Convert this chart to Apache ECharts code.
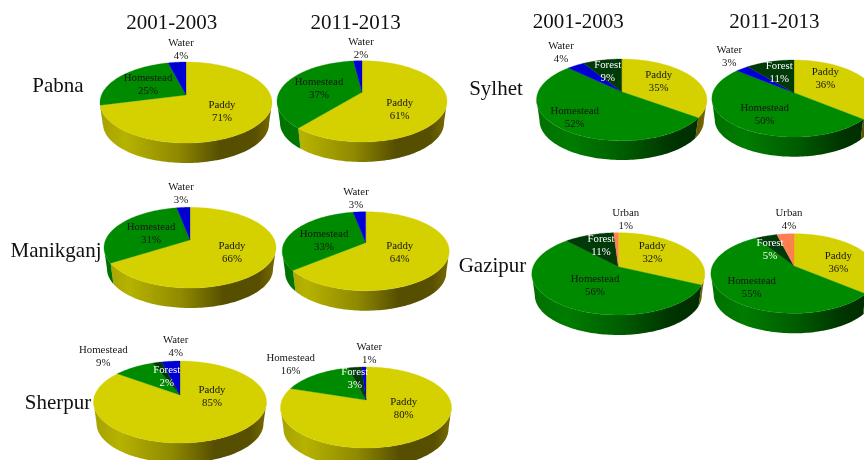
<!DOCTYPE html>
<html>
<head>
<meta charset="utf-8">
<style>
html,body{margin:0;padding:0;background:#fff}
#chart{width:864px;height:460px;filter:blur(0.45px)}
</style>
<script src="https://cdn.jsdelivr.net/npm/echarts@6/dist/echarts.min.js"></script>
</head>
<body>
<div id="chart"></div>
<script>
// ---- data ----
const pabna2001Names = ['Paddy','Homestead','Water'];
const pabna2001Values = [71,25,4];
const pabna2011Names = ['Paddy','Homestead','Water'];
const pabna2011Values = [61,37,2];
const manikganj2001Names = ['Paddy','Homestead','Water'];
const manikganj2001Values = [66,31,3];
const manikganj2011Names = ['Paddy','Homestead','Water'];
const manikganj2011Values = [64,33,3];
const sherpur2001Names = ['Paddy','Homestead','Forest','Water'];
const sherpur2001Values = [85,9,2,4];
const sherpur2011Names = ['Paddy','Homestead','Forest','Water'];
const sherpur2011Values = [80,16,3,1];
const sylhet2001Names = ['Paddy','Homestead','Water','Forest'];
const sylhet2001Values = [35,52,4,9];
const sylhet2011Names = ['Paddy','Homestead','Water','Forest'];
const sylhet2011Values = [36,50,3,11];
const gazipur2001Names = ['Paddy','Homestead','Forest','Urban'];
const gazipur2001Values = [32,56,11,1];
const gazipur2011Names = ['Paddy','Homestead','Forest','Urban'];
const gazipur2011Values = [36,55,5,4];
const periodLabels = ['2001-2003','2011-2013'];
const districtLabels = ['Pabna','Manikganj','Sherpur','Sylhet','Gazipur'];

// ---- layout & style ----
const FONT = '"Liberation Serif","Times New Roman",serif';
const topColors = {Paddy:'#d5d100',Homestead:'#008a00',Forest:'#003a08',Water:'#0000d2',Urban:'#ff7f50'};
const wallStops = {
  Paddy:[[0,'#a6a200'],[0.15,'#b6b200'],[0.45,'#8f8a00'],[0.7,'#564e00'],[0.9,'#585000'],[1,'#7a6c00']],
  Homestead:[[0,'#007000'],[0.2,'#007c00'],[0.5,'#005e00'],[0.8,'#003400'],[1,'#002c00']],
  Forest:[[0,'#003a08'],[1,'#001c04']],
  Water:[[0,'#0000b0'],[1,'#000050']],
  Urban:[[0,'#e07040'],[1,'#804020']]
};
// cx, apexY: slice apex; left/right: rim extremes; top/bottom: rim on the vertical; base: lowest point of the wall
const pies = [
 {names:pabna2001Names,values:pabna2001Values,cx:186,ay:95,left:100,right:272,top:62,bottom:143,base:163,
  labels:[[222,112],[148,85],[181,49.5]]},
 {names:pabna2011Names,values:pabna2011Values,cx:362,ay:92.3,left:277,right:447,top:60.7,bottom:142,base:162,
  labels:[[399.7,110],[319,89],[361,49]]},
 {names:manikganj2001Names,values:manikganj2001Values,cx:190,ay:240,left:104,right:276,top:207.3,bottom:288,base:308,
  labels:[[232,252.7],[151,233.5],[181,193.8]]},
 {names:manikganj2011Names,values:manikganj2011Values,cx:365.7,ay:242.7,left:282,right:449,top:211.7,bottom:290.7,base:310.7,
  labels:[[399.7,252.7],[324,240.7],[356,199]]},
 {names:sherpur2001Names,values:sherpur2001Values,cx:180,ay:395,left:94,right:267,top:361,bottom:443,base:463,
  labels:[[212,396.3],[103.3,357],[166.7,377],[175.7,347]]},
 {names:sherpur2011Names,values:sherpur2011Values,cx:366,ay:400,left:280,right:451,top:367,bottom:448,base:468,
  labels:[[403.7,408.3],[290.7,364.2],[354.7,379],[369.3,353.5]]},
 {names:sylhet2001Names,values:sylhet2001Values,cx:621.7,ay:91.7,left:536.7,right:707,top:59,bottom:140.7,base:160,
  labels:[[658.7,81.3],[574.7,117.2],[561,52.8],[607.7,71.2]]},
 {names:sylhet2011Names,values:sylhet2011Values,cx:794,ay:92.7,left:711.7,right:876,top:60,bottom:137,base:156.7,
  labels:[[825.3,78.7],[764.7,114.5],[729.3,56.4],[779.3,72.4]]},
 {names:gazipur2001Names,values:gazipur2001Values,cx:618.3,ay:266.7,left:532.7,right:705.7,top:232.7,bottom:315,base:335,
  labels:[[652.3,252.4],[595,285.2],[601,245.7],[625.7,219.5]]},
 {names:gazipur2011Names,values:gazipur2011Values,cx:794,ay:266,left:710.7,right:877,top:233.7,bottom:313.3,base:333.3,
  labels:[[838.3,262.2],[751.7,287.7],[770,249.2],[789,219.5]]}
];
const periodLayout = [[171.7,23.3],[355.7,23.3],[578.3,22.3],[774.3,22.3]];
const districtLayout = [[58,86.7],[56,251.7],[58,403],[496,89.3],[492.5,266]];
const WALL_SCALE = 0.965;

function makeProjection(p){
  const a = p.bottom - p.ay, b = p.ay - p.top;
  const k = (a - b) / (a + b);
  const A = a * (1 - k);
  const B = (p.right - p.left) / 2 * Math.sqrt(1 - k * k);
  const dy = p.base - p.ay - a * WALL_SCALE;
  const rim = t => {
    const X = Math.sin(t), Y = -Math.cos(t), w = 1 - k * Y;
    return [p.cx + B * X / w, p.ay + A * Y / w];
  };
  const foot = t => {
    const q = rim(t);
    return [p.cx + (q[0] - p.cx) * WALL_SCALE, p.ay + (q[1] - p.ay) * WALL_SCALE + dy];
  };
  return {rim, foot, t0: Math.acos(-k)};
}
function arcAngles(s, e){
  const out = [], n = Math.max(2, Math.ceil((e - s) / (Math.PI / 120)));
  for (let i = 0; i <= n; i++) out.push(s + (e - s) * i / n);
  return out;
}

function pieSeries(p){
  const proj = makeProjection(p);
  const total = p.values.reduce((x, y) => x + y, 0);
  return {
    type:'custom',
    coordinateSystem:'none',
    silent:true,
    animation:false,
    clip:false,
    data:p.values.map(v => [v]),
    renderItem(params, api){
      const i = params.dataIndex, name = p.names[i];
      let before = 0;
      for (let j = 0; j < i; j++) before += p.values[j];
      const value = api.value(0);
      const s = before / total * 2 * Math.PI;
      const e = (before + value) / total * 2 * Math.PI;
      const children = [];
      // side wall, only the part of the rim that faces the viewer
      const ws = Math.max(s, proj.t0), we = Math.min(e, 2 * Math.PI - proj.t0);
      if (we > ws) {
        const ang = arcAngles(ws, we);
        const pts = ang.map(proj.rim).concat(ang.slice().reverse().map(proj.foot));
        children.push({
          type:'polygon', z2:1,
          shape:{points:pts},
          style:{
            fill:{type:'linear',x:p.left,y:0,x2:p.right,y2:0,global:true,
              colorStops:wallStops[name].map(c => ({offset:c[0],color:c[1]}))}
          }
        });
      }
      // top face
      const top = [[p.cx, p.ay]].concat(arcAngles(s, e).map(proj.rim));
      children.push({
        type:'polygon', z2:2,
        shape:{points:top},
        style:{fill:topColors[name],stroke:topColors[name],lineWidth:0.3}
      });
      // label
      const lp = p.labels[i];
      children.push({
        type:'text', z2:20, x:lp[0], y:lp[1],
        style:{
          text:name + '\n' + value + '%',
          fill:name === 'Forest' ? '#ffffff' : '#151515',
          font:'10.8px ' + FONT,
          lineHeight:13,
          align:'center',
          verticalAlign:'middle'
        }
      });
      return {type:'group', children};
    }
  };
}

const headings = [periodLabels[0],periodLabels[1],periodLabels[0],periodLabels[1]].map((t, i) => ({
  type:'text', x:periodLayout[i][0], y:periodLayout[i][1], silent:true,
  style:{text:t,fill:'#111',font:'21px ' + FONT,align:'center',verticalAlign:'middle'}
}));
const rowNames = districtLabels.map((t, i) => ({
  type:'text', x:districtLayout[i][0], y:districtLayout[i][1], silent:true,
  style:{text:t,fill:'#111',font:'21px ' + FONT,align:'center',verticalAlign:'middle'}
}));

const chart = echarts.init(document.getElementById('chart'), null, {renderer:'canvas'});
chart.setOption({
  backgroundColor:'#ffffff',
  animation:false,
  graphic:{elements:headings.concat(rowNames)},
  series:pies.map(pieSeries)
});
</script>
</body>
</html>
